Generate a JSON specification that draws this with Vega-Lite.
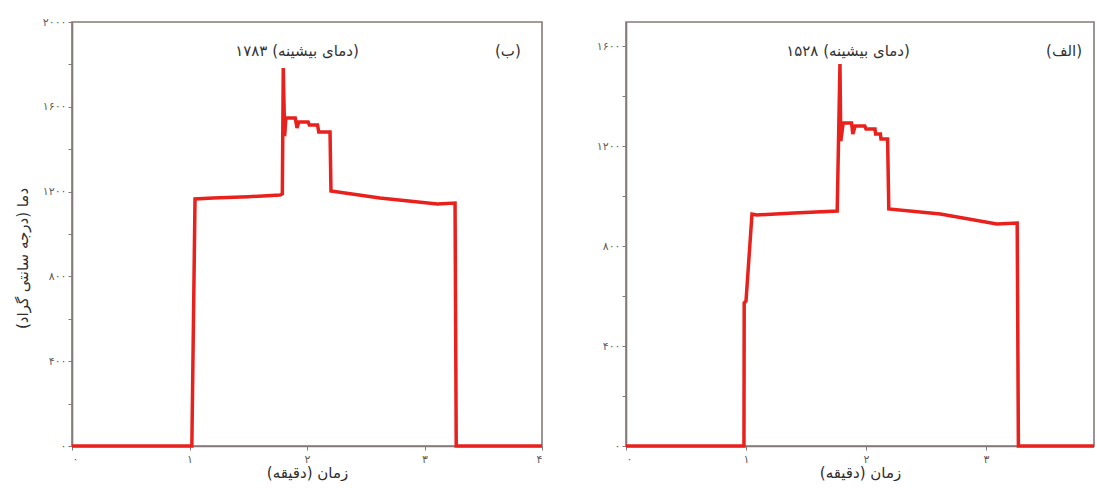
{
  "$schema": "https://vega.github.io/schema/vega-lite/v6.json",
  "autosize": {"type": "pad"},
  "padding": {"left": 14, "top": 15, "right": 0, "bottom": 0},
  "background": "white",
  "bounds": "flush",
  "spacing": 84,
  "config": {
    "font": "DejaVu Sans",
    "view": {"stroke": "#857a7a", "strokeWidth": 1.6},
    "axis": {
      "domainColor": "#857a7a", "domainWidth": 1.6, "tickColor": "#857a7a", "tickSize": 4,
      "labelColor": "#5e5e5e", "labelFont": "DejaVu Sans", "labelFontSize": 11,
      "titleFont": "DejaVu Sans", "titleFontSize": 15, "titleFontWeight": "normal", "titleColor": "#2e2e2e",
      "grid": false
    }
  },
  "hconcat": [
    {
      "width": 470,
      "height": 424,
      "encoding": {
        "x": {"field": "t", "type": "quantitative", "scale": {"domain": [0, 4], "nice": false, "zero": false},
          "axis": {"title": "\u202Bزمان (دقیقه)\u202C", "values": [0, 1, 2, 3, 4], "format": "d", "labelPadding": 3, "titlePadding": 1,
            "labelExpr": "replace(replace(replace(replace(replace(replace(replace(replace(replace(replace(datum.label,regexp('0','g'),'۰'),regexp('1','g'),'۱'),regexp('2','g'),'۲'),regexp('3','g'),'۳'),regexp('4','g'),'۴'),regexp('5','g'),'۵'),regexp('6','g'),'۶'),regexp('7','g'),'۷'),regexp('8','g'),'۸'),regexp('9','g'),'۹')"}},
        "y": {"field": "T", "type": "quantitative", "scale": {"domain": [0, 2000], "nice": false},
          "axis": {"title": "\u202Bدما (درجه سانتی گراد)\u202C", "values": [0, 200, 400, 600, 800, 1000, 1200, 1400, 1600, 1800, 2000], "format": "d", "labelPadding": 2, "titleX": -42, "titleY": 236,
            "labelExpr": "datum.value % 400 == 0 ? replace(replace(replace(replace(replace(replace(replace(replace(replace(replace(datum.label,regexp('0','g'),'۰'),regexp('1','g'),'۱'),regexp('2','g'),'۲'),regexp('3','g'),'۳'),regexp('4','g'),'۴'),regexp('5','g'),'۵'),regexp('6','g'),'۶'),regexp('7','g'),'۷'),regexp('8','g'),'۸'),regexp('9','g'),'۹') : ''"}}
      },
      "layer": [
        {
          "data": {"values": [
            {"t": 0, "T": 0}, {"t": 1.02, "T": 0}, {"t": 1.047, "T": 1165}, {"t": 1.2, "T": 1170}, {"t": 1.5, "T": 1176},
            {"t": 1.77, "T": 1184}, {"t": 1.79, "T": 1189}, {"t": 1.798, "T": 1783}, {"t": 1.81, "T": 1462}, {"t": 1.82, "T": 1547},
            {"t": 1.9, "T": 1547}, {"t": 1.915, "T": 1500}, {"t": 1.93, "T": 1528}, {"t": 2.01, "T": 1528}, {"t": 2.02, "T": 1514},
            {"t": 2.09, "T": 1514}, {"t": 2.1, "T": 1481}, {"t": 2.196, "T": 1481}, {"t": 2.204, "T": 1203}, {"t": 2.62, "T": 1170},
            {"t": 3.11, "T": 1142}, {"t": 3.26, "T": 1146}, {"t": 3.27, "T": 0}, {"t": 4.0, "T": 0}
          ]},
          "mark": {"type": "line", "color": "#e8211d", "strokeWidth": 3.5, "clip": false}
        },
        {
          "data": {"values": [
            {"t": 1.915, "T": 1863, "label": "۱۷۸۳ (دمای بیشینه)"},
            {"t": 3.71, "T": 1863, "label": "(ب)"}
          ]},
          "mark": {"type": "text", "dir": "rtl", "font": "DejaVu Sans", "fontSize": 15, "color": "#333333"},
          "encoding": {"text": {"field": "label"}}
        }
      ]
    },
    {
      "width": 468,
      "height": 424,
      "encoding": {
        "x": {"field": "t", "type": "quantitative", "scale": {"domain": [0, 3.9], "nice": false, "zero": false},
          "axis": {"title": "\u202Bزمان (دقیقه)\u202C", "values": [0, 1, 2, 3], "format": "d", "labelPadding": 3, "titlePadding": 1,
            "labelExpr": "replace(replace(replace(replace(replace(replace(replace(replace(replace(replace(datum.label,regexp('0','g'),'۰'),regexp('1','g'),'۱'),regexp('2','g'),'۲'),regexp('3','g'),'۳'),regexp('4','g'),'۴'),regexp('5','g'),'۵'),regexp('6','g'),'۶'),regexp('7','g'),'۷'),regexp('8','g'),'۸'),regexp('9','g'),'۹')"}},
        "y": {"field": "T", "type": "quantitative", "scale": {"domain": [0, 1696], "nice": false},
          "axis": {"title": null, "values": [0, 200, 400, 600, 800, 1000, 1200, 1400, 1600], "format": "d", "labelPadding": 2,
            "labelExpr": "datum.value % 400 == 0 ? replace(replace(replace(replace(replace(replace(replace(replace(replace(replace(datum.label,regexp('0','g'),'۰'),regexp('1','g'),'۱'),regexp('2','g'),'۲'),regexp('3','g'),'۳'),regexp('4','g'),'۴'),regexp('5','g'),'۵'),regexp('6','g'),'۶'),regexp('7','g'),'۷'),regexp('8','g'),'۸'),regexp('9','g'),'۹') : ''"}}
      },
      "layer": [
        {
          "data": {"values": [
            {"t": 0, "T": 0}, {"t": 0.983, "T": 0}, {"t": 0.985, "T": 572}, {"t": 1.0, "T": 580}, {"t": 1.05, "T": 928},
            {"t": 1.09, "T": 924}, {"t": 1.4, "T": 932}, {"t": 1.76, "T": 940}, {"t": 1.783, "T": 1528}, {"t": 1.79, "T": 1220},
            {"t": 1.81, "T": 1292}, {"t": 1.88, "T": 1292}, {"t": 1.89, "T": 1248}, {"t": 1.91, "T": 1280}, {"t": 1.99, "T": 1280},
            {"t": 2.0, "T": 1268}, {"t": 2.075, "T": 1268}, {"t": 2.08, "T": 1248}, {"t": 2.12, "T": 1248}, {"t": 2.125, "T": 1228},
            {"t": 2.18, "T": 1228}, {"t": 2.19, "T": 948}, {"t": 2.62, "T": 928}, {"t": 3.09, "T": 888}, {"t": 3.26, "T": 892},
            {"t": 3.27, "T": 0}, {"t": 3.9, "T": 0}
          ]},
          "mark": {"type": "line", "color": "#e8211d", "strokeWidth": 3.5, "clip": false}
        },
        {
          "data": {"values": [
            {"t": 1.85, "T": 1580, "label": "۱۵۲۸ (دمای بیشینه)"},
            {"t": 3.65, "T": 1580, "label": "(الف)"}
          ]},
          "mark": {"type": "text", "dir": "rtl", "font": "DejaVu Sans", "fontSize": 15, "color": "#333333"},
          "encoding": {"text": {"field": "label"}}
        }
      ]
    }
  ]
}
